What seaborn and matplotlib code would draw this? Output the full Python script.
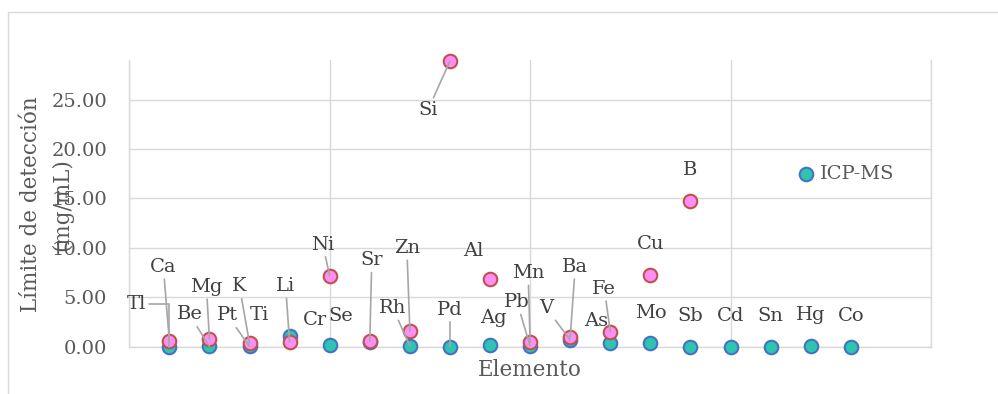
import matplotlib
matplotlib.use("Agg")
import matplotlib.pyplot as plt
from matplotlib.patches import Rectangle
import seaborn as sns
import pandas as pd

# Datos: limite de deteccion por elemento (mg/mL)
icpms_elementos = ["Tl", "Be", "Pt", "Ti", "Cr", "Se", "Rh", "Pd", "Ag", "Pb",
                   "V", "As", "Mo", "Sb", "Cd", "Sn", "Hg", "Co"]
icpms_x = list(range(1, 19))
icpms_ld = [0.02, 0.03, 0.03, 1.1, 0.2, 0.5, 0.07, 0.02, 0.14, 0.05,
            0.68, 0.4, 0.4, 0.01, 0.01, 0.02, 0.05, 0.02]

otro_elementos = ["Ca", "Mg", "K", "Li", "Ni", "Sr", "Zn", "Si", "Al", "Mn",
                  "Ba", "Fe", "Cu", "B"]
otro_x = list(range(1, 15))
otro_ld = [0.6, 0.78, 0.34, 0.47, 7.2, 0.54, 1.58, 28.9, 6.9, 0.47,
           1.0, 1.5, 7.3, 14.75]

# posicion de las etiquetas (desplazamiento en pixeles) y si llevan linea guia
icpms_offset = [(-33, 43), (-20, 32), (-22, 31), (-30, 21), (-15, 25), (-29, 26),
                (-17, 38), (0, 37), (3, 27), (-13, 44), (-24, 32), (-14, 22),
                (0, 30), (0, 31), (0, 31), (0, 31), (0, 31), (0, 31)]
icpms_guia = [2, 1, 1, 0, 0, 0, 1, 1, 0, 1, 1, 0, 0, 0, 0, 0, 0, 0]
otro_offset = [(-6, 74), (-3, 52), (-10, 57), (-4, 56), (-7, 31), (2, 81),
               (-3, 83), (-22, -49), (-17, 28), (-2, 69), (5, 70), (-6, 43),
               (0, 31), (0, 31)]
otro_guia = [1, 1, 1, 1, 1, 1, 1, 1, 0, 1, 1, 1, 0, 0]

df_icp = pd.DataFrame({"x": icpms_x, "ld": icpms_ld, "el": icpms_elementos})
df_otro = pd.DataFrame({"x": otro_x, "ld": otro_ld, "el": otro_elementos})

sns.set_style("white")
plt.rcParams["font.family"] = ["DejaVu Serif"]

gris = "#D9D9D9"
fig = plt.figure(figsize=(9.98, 3.94), dpi=100)
ax = fig.add_axes([0.1295, 0.12, 0.8034, 0.7277])

# borde del area del grafico
fig.patches.append(Rectangle((8 / 998, -0.5), 2, 1.5 - 12 / 394, transform=fig.transFigure,
                             fill=False, edgecolor=gris, linewidth=1.0))

sns.scatterplot(data=df_icp, x="x", y="ld", ax=ax, s=95, color="#2EC4B0",
                edgecolor="#4472C4", linewidth=1.5, label="ICP-MS", zorder=3, clip_on=False)
sns.scatterplot(data=df_otro, x="x", y="ld", ax=ax, s=95, color="#FF8FF5",
                edgecolor="#C0504D", linewidth=1.5, zorder=4, clip_on=False)

ax.set_xlim(0, 20)
ax.set_ylim(0, 29)
ax.set_xticks(range(0, 21, 5))
ax.set_xticklabels([])
ax.set_yticks(range(0, 26, 5))
ax.set_yticklabels([f"{v:.2f}" for v in range(0, 26, 5)])
ax.tick_params(axis="both", length=0, labelsize=14, labelcolor="#595959")
ax.tick_params(axis="y", pad=16)
ax.grid(True, color=gris, linewidth=1.0, zorder=0)
ax.set_axisbelow(True)
for lado in ["left", "bottom", "right"]:
    ax.spines[lado].set_color(gris)
    ax.spines[lado].set_linewidth(1.0)
ax.spines["top"].set_visible(False)

ax.set_xlabel("Elemento", fontsize=15.5, color="#595959", labelpad=5)
ax.set_ylabel("")
fig.text(0.0466, 0.482, "Límite de detección\n(mg/mL)", rotation=90, ha="center",
         va="center", fontsize=15.5, color="#595959", linespacing=1.5)


def etiquetar(df, offsets, guias):
    for (x, y, el), (dx, dy), g in zip(df[["x", "ld", "el"]].values, offsets, guias):
        props = None
        if g == 1:
            props = dict(arrowstyle="-", color="#A6A6A6", lw=1.2, shrinkA=0, shrinkB=0)
        elif g == 2:
            props = dict(arrowstyle="-", color="#A6A6A6", lw=1.2, shrinkA=0, shrinkB=0,
                         connectionstyle="angle,angleA=0,angleB=90,rad=0")
        ax.annotate(el, xy=(x, y), xytext=(dx, dy), textcoords="offset pixels",
                    ha="center", va="center", fontsize=14, color="#404040",
                    arrowprops=props, zorder=5, annotation_clip=False)


etiquetar(df_icp, icpms_offset, icpms_guia)
etiquetar(df_otro, otro_offset, otro_guia)

leg = ax.legend(loc="center left", bbox_to_anchor=(0.832, 0.602), frameon=False,
                fontsize=14, handlelength=1.0, handletextpad=0.2, borderpad=0,
                borderaxespad=0)
for t in leg.get_texts():
    t.set_color("#595959")

fig.savefig("out.png", dpi=100)
